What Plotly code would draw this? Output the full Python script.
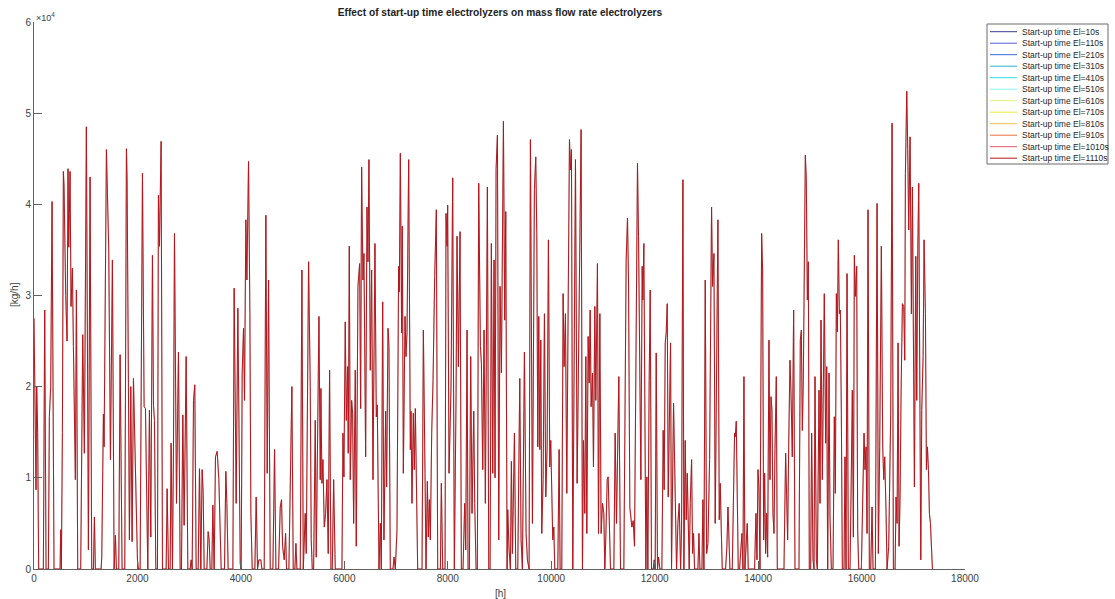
import numpy as np
import plotly.graph_objects as go

# ---------------- data ----------------
hours = [0,20,39,52,71,90,181,207,233,278,297,323,349,387,504,516,529,549,568,581,613,639,658,671,684,697,716,742,762,781,800,820,845,903,942,974,1013,1052,1084,1116,1149,1168,1187,1297,1310,1342,1355,1400,1420,1445,1478,1516,1549,1574,1594,1639,1665,1703,1755,1787,1800,1845,1871,1897,1923,
 1974,2000,2019,2052,2097,2129,2155,2181,2200,2232,2258,2290,2310,2329,2355,2387,2406,2426,2458,2484,2555,2574,2600,2632,2651,2677,2697,2716,2755,2793,2826,2851,2877,2903,2922,2942,2974,3019,3038,3058,3084,3109,3135,3174,3200,3225,3251,3271,3290,3342,3367,3387,3406,3438,3458,3483,3509,3541,3574,3600,3619,3683,3709,3729,3754,3845,3870,
 3909,3941,3961,3987,4006,4025,4051,4070,4096,4116,4148,4174,4193,4219,4270,4296,4322,4348,4386,4406,4451,4483,4509,4535,4567,4619,4651,4677,4728,4761,4786,4806,4838,4864,4883,4928,4986,5012,5044,5064,5083,5148,5180,5206,5244,5264,5309,5341,5360,5380,5406,5438,5457,5483,5509,5535,5547,5567,5586,5612,5638,5664,5689,5715,5741,5767,5793,
 5825,5954,5973,5992,6018,6038,6063,6076,6096,6115,6141,6160,6180,6212,6231,6263,6296,6315,6334,6360,6379,6412,6438,6457,6476,6502,6528,6554,6592,6618,6637,6670,6696,6715,6741,6766,6799,6818,6844,6863,6889,6941,6960,6986,7018,7050,7063,7083,7108,7121,7141,7173,7192,7212,7244,7276,7289,7308,7334,7353,7373,7392,7418,7502,7528,7560,7579,7605,7624,7644,7663,7689,7715,7747,
 7779,7805,7857,7876,7902,7947,7966,7986,7998,8024,8044,8063,8095,8127,8160,8179,8205,8237,8263,8295,8327,8347,8373,8392,8418,8443,8469,8502,8521,8547,8572,8598,8631,8650,8676,8701,8727,8766,8792,8818,8843,8869,8895,8914,8934,8960,8985,9011,9037,9056,9076,9101,9121,9147,9159,9185,9211,9230,9250,9289,9314,9353,9392,9417,9443,9482,9514,9540,9572,9598,
 9637,9675,9701,9721,9740,9759,9779,9798,9817,9843,9869,9895,9921,9946,9972,9991,10011,10030,10050,10069,10127,10153,10172,10204,10230,10249,10275,10301,10327,10353,10372,10391,10417,10443,10469,10501,10540,10578,10604,10624,10649,10669,10688,10714,10733,10753,10772,10798,10817,10843,10862,10894,10914,10940,10965,10991,11017,11036,11056,11082,11101,11127,11146,11211,11236,11262,11288,11307,11340,11404,11449,11475,11494,11520,
 11559,11585,11610,11636,11668,11688,11707,11733,11759,11772,11791,11810,11830,11849,11868,11894,11914,11939,11972,11991,12010,12030,12055,12075,12101,12139,12165,12184,12204,12223,12243,12262,12288,12307,12326,12346,12365,12384,12404,12423,12449,12475,12501,12520,12546,12565,12591,12610,12630,12649,12668,12688,12714,12733,12752,12772,12836,12856,12875,12914,12933,12952,12978,13004,13030,13062,13081,13100,13120,13146,13171,13197,13223,13249,13268,13288,13307,13371,13397,13417,13436,13455,13500,13545,
 13558,13578,13597,13616,13642,13668,13687,13707,13726,13745,13790,13810,13932,13958,13978,13997,14016,14036,14068,14087,14107,14126,14145,14165,14184,14210,14229,14249,14268,14287,14307,14326,14352,14371,14500,14532,14552,14571,14591,14616,14636,14661,14687,14713,14790,14816,14836,14855,14874,14894,14913,14932,14952,14971,14990,15016,15035,15061,15081,15100,15126,15145,15177,15197,15216,15242,15261,15280,15306,15326,15345,15371,15390,15416,15448,15474,
 15493,15513,15532,15551,15571,15590,15609,15629,15661,15680,15700,15719,15745,15777,15796,15822,15842,15861,15880,15906,15925,15945,15996,16022,16048,16067,16087,16106,16125,16151,16177,16203,16222,16267,16300,16325,16351,16383,16409,16429,16448,16474,16493,16525,16545,16564,16590,16616,16648,16667,16687,16706,16725,16745,16764,16790,16816,16835,16848,16874,16893,16912,16938,16964,16983,17003,17022,17048,17067,17087,17106,17125,17145,17164,17190,17209,17235,17254,17274,17293,17312,17332,17351,17370]

# mass flow rate in units of 1e4 kg/h
flow_1e4 = [2.75,2.0,0.87,2.0,1.5,0,0,2.84,0,0,1.67,2.0,4.03,0,0,0.43,0,1.5,4.36,4.2,3.0,2.5,4.39,3.53,3.9,4.36,2.88,3.3,2.44,1.8,0.98,3.06,0,0,2.57,1.27,4.85,0.21,4.3,0,0,0.57,0,0,0.13,1.7,1.34,4.6,4.14,3.5,1.2,3.39,0,0.37,0,0,2.35,0,0,4.61,4.27,0.32,2.0,0.3,2.09,
 0.68,0.1,0,0,4.34,1.78,1.76,0.6,0,1.74,0.35,3.44,1.8,1.63,0,0,4.1,3.54,4.69,0,0,0.88,0,0,1.38,0,1.34,3.68,0.72,2.38,0,0,1.69,0.48,1.78,2.33,0,0,0.1,0,1.85,2.02,0,0,1.1,0,1.09,0.83,0,0,0.41,0.32,0,0,0.7,0,1.23,1.29,0.98,0.5,0,0,1.07,0.72,0,0,3.08,
 0.72,2.86,1.71,0.06,0,2.15,2.64,1.85,3.83,3.17,4.47,2.8,0.61,0,0,0.79,0,0.1,0.1,0,0,3.88,1.05,3.17,0,0,1.31,0,0,0.68,0.76,0.25,0.1,0.39,0,0,2.0,0,0,0.28,0,0,3.28,0,0.61,0.17,3.37,2.0,0.32,0,0,1.63,0.13,1.67,2.77,0.98,1.98,0.94,1.2,0.46,0.61,0.98,0.17,2.18,0,0,0.98,
 0,0,1.49,1.01,2.71,1.63,2.22,1.27,3.54,0.98,1.85,1.71,0.5,2.18,0.25,3.1,3.35,1.76,4.41,3.17,3.46,1.23,3.97,3.37,4.49,2.18,3.28,0.98,3.57,1.67,1.8,0,0.5,0,2.93,0.32,1.73,0.9,2.64,2.44,0,0,0.13,0,0.43,3.32,3.04,4.56,2.59,3.76,1.05,2.77,2.33,2.59,4.49,1.31,1.73,0.72,1.71,1.09,1.76,0.98,0,0,2.62,1.05,0,0.96,0.35,0.76,0.32,1.49,2.07,3.21,
 3.94,0,0,0.94,0,0,3.9,3.54,3.99,1.05,1.52,2.0,4.29,0,1.89,3.65,2.22,3.7,0,0,0.72,0.21,2.62,0,0,2.33,0.61,1.73,0.72,0,0,4.23,2.44,2.26,1.09,2.62,0.72,4.19,0,0,3.57,1.05,3.39,1.0,4.39,4.76,0.32,3.1,2.15,3.76,4.91,2.73,3.92,0,0.65,0.21,0,1.18,0.17,1.49,0,0,2.09,0.32,0,2.38,0.39,0.1,0,4.71,
 0.5,4.16,4.52,3.68,1.34,2.77,1.31,2.51,0.39,0.98,2.8,0.79,1.34,3.61,1.12,1.41,0.61,0.32,0.46,0,0,1.31,0,0,3.02,2.22,2.8,0.83,2.84,4.71,4.38,4.6,0,2.62,4.49,0.94,2.88,4.82,0,1.41,0.61,2.33,0.39,2.55,2.04,2.84,1.78,2.15,1.12,2.88,1.85,3.35,0.39,2.8,0.39,0.72,0.61,0,0.35,0.98,1.01,0.54,0,0,1.49,0.5,1.27,2.11,0,0,3.39,3.85,3.17,0.68,
 0.46,0.53,0.25,2.07,4.45,3.65,2.77,0.98,3.32,2.95,3.57,1.16,0,1.01,0,2.07,3.06,0,0,0.1,0,2.37,0,0.13,0,0,1.52,0.87,2.48,2.59,2.91,0.79,2.15,2.48,0,0.98,1.82,1.23,0.68,0,0.5,0.72,0,0.43,4.27,0,1.41,0.54,1.05,0.39,0,0.72,1.2,0.17,0.39,0,0,0.39,0,0,0.76,0,3.17,0.17,0.28,1.2,3.06,3.97,3.1,3.46,0.5,2.8,3.83,0.54,0.94,0.43,0,0,0.25,0.68,0.39,0,0,1.49,
 1.45,1.62,0.68,0,0,0.21,0.39,0,2.11,0,0.5,0,0,0.61,0.1,1.09,0.9,0,3.68,3.28,0.32,1.05,0.17,0.61,0.13,2.51,0.98,1.89,1.74,0.61,0.39,1.31,2.11,0,0,1.27,0.61,0.32,1.34,2.29,1.93,1.23,2.84,0,0,2.51,2.62,1.52,2.07,3.32,4.54,4.27,2.95,3.37,0,0,1.49,0.1,0,2.11,0.1,0,1.96,0.72,2.73,0.98,2.18,3.02,1.38,2.22,0,2.15,0.57,0,0,1.67,
 0.83,3.02,2.6,3.61,2.8,2.84,1.71,0,0,1.23,0,3.24,0,0,0.79,1.96,0.35,3.44,2.99,3.32,0.43,0,0,0.76,1.49,1.09,1.34,0.39,3.94,0,0,0.68,0,0,4.01,0.17,1.34,3.54,1.34,0.98,1.23,0.61,0,0.25,1.34,1.71,4.89,0,0,0.79,0.5,2.48,0.25,0.79,1.93,2.91,2.88,2.29,4.34,5.24,4.6,3.72,4.74,2.8,4.19,2.18,0.9,3.43,1.85,3.5,4.23,2.18,0.1,1.74,2.33,3.61,2.8,1.09,1.34,1.09,0.61,0.5,0.1,0]

startup_times = [10, 110, 210, 310, 410, 510, 610, 710, 810, 910, 1010, 1110]
series_names = ["Start-up time El=%ds" % t for t in startup_times]
series_colors = ["#3d3d8f", "#5b5bd6", "#3a6ad6", "#2ab3c8", "#2fdede", "#8ef0f0",
                 "#dff07a", "#f3ea3c", "#f5bc4a", "#f0703f", "#e0556a", "#b8141c"]

x_ticks = list(range(0, 18001, 2000))
x_tick_labels = [str(v) for v in x_ticks]
y_tick_labels = ["0", "1", "2", "3", "4", "5", "6"]

# ---------------- figure ----------------
W, H = 1115, 599
L, R, T, B = 34, 965, 22, 569
FONT = "Liberation Sans, Arial, sans-serif"
TXT = "#404040"
AX = "#606060"

hrs = np.array(hours, dtype=float)
flow = np.array(flow_1e4, dtype=float) * 1e4

fig = go.Figure()
n = len(series_names)
for i, (name, col) in enumerate(zip(series_names, series_colors)):
    top = (i == n - 1)
    fig.add_trace(go.Scatter(x=hrs, y=flow, mode="lines", name=name,
                             line=dict(color=col, width=1 if top else 0.4),
                             opacity=1 if top else 0.15,
                             showlegend=False))

def px2x(px):
    return (px - L) / (R - L)

def px2y(py):
    return (B - py) / (B - T)

shapes = []
annotations = []
# custom legend box (MATLAB style, compact)
shapes.append(dict(type="rect", xref="paper", yref="paper",
                   x0=px2x(987), x1=px2x(1108), y0=px2y(164), y1=px2y(24),
                   line=dict(color="#6a6a6a", width=1), fillcolor="white"))
for i, (name, col) in enumerate(zip(series_names, series_colors)):
    yy = 31.7 + i * 11.5
    shapes.append(dict(type="line", xref="paper", yref="paper",
                       x0=px2x(990), x1=px2x(1017), y0=px2y(yy), y1=px2y(yy),
                       line=dict(color=col, width=1)))
    annotations.append(dict(xref="paper", yref="paper", x=px2x(1020), y=px2y(yy),
                            text=name, showarrow=False, xanchor="left", yanchor="middle",
                            font=dict(family=FONT, size=8.5, color="#262626")))

# exponent label
annotations.append(dict(xref="paper", yref="paper", x=px2x(34), y=px2y(17),
                        text="\u00d710<sup>4</sup>", showarrow=False, xanchor="left",
                        yanchor="middle", font=dict(family=FONT, size=9, color=TXT)))
# axis titles
annotations.append(dict(xref="paper", yref="paper", x=px2x(500), y=px2y(593),
                        text="[h]", showarrow=False, xanchor="center", yanchor="middle",
                        font=dict(family=FONT, size=10, color=TXT)))
annotations.append(dict(xref="paper", yref="paper", x=px2x(14), y=px2y(295),
                        text="[kg/h]", showarrow=False, xanchor="center", yanchor="middle",
                        textangle=-90, font=dict(family=FONT, size=10, color=TXT)))

fig.update_layout(
    width=W, height=H,
    margin=dict(l=L, r=W - R, t=T, b=H - B, autoexpand=False),
    paper_bgcolor="white", plot_bgcolor="white",
    title=dict(text="<b>Effect of start-up time electrolyzers on mass flow rate electrolyzers</b>",
               x=500 / W, xanchor="center",
               y=1 - 12 / H, yanchor="middle",
               font=dict(family=FONT, size=10.2, color="#222")),
    xaxis=dict(range=[0, 18000], tickvals=x_ticks, ticktext=x_tick_labels, ticks="inside", ticklen=8,
               tickcolor=AX, showline=True, linecolor=AX, linewidth=1,
               showgrid=False, zeroline=False, mirror=False,
               tickfont=dict(family=FONT, size=10, color=TXT)),
    yaxis=dict(range=[0, 6e4], tickvals=[i * 1e4 for i in range(7)], ticktext=y_tick_labels,
               ticks="inside", ticklen=8, tickcolor=AX, showline=True, linecolor=AX,
               linewidth=1, showgrid=False, zeroline=False, mirror=False,
               tickfont=dict(family=FONT, size=10, color=TXT)),
    shapes=shapes, annotations=annotations, showlegend=False,
)

fig.write_html("out.html", config={"displayModeBar": False},
               post_script="document.body.style.margin='0';document.body.style.overflow='hidden';")
